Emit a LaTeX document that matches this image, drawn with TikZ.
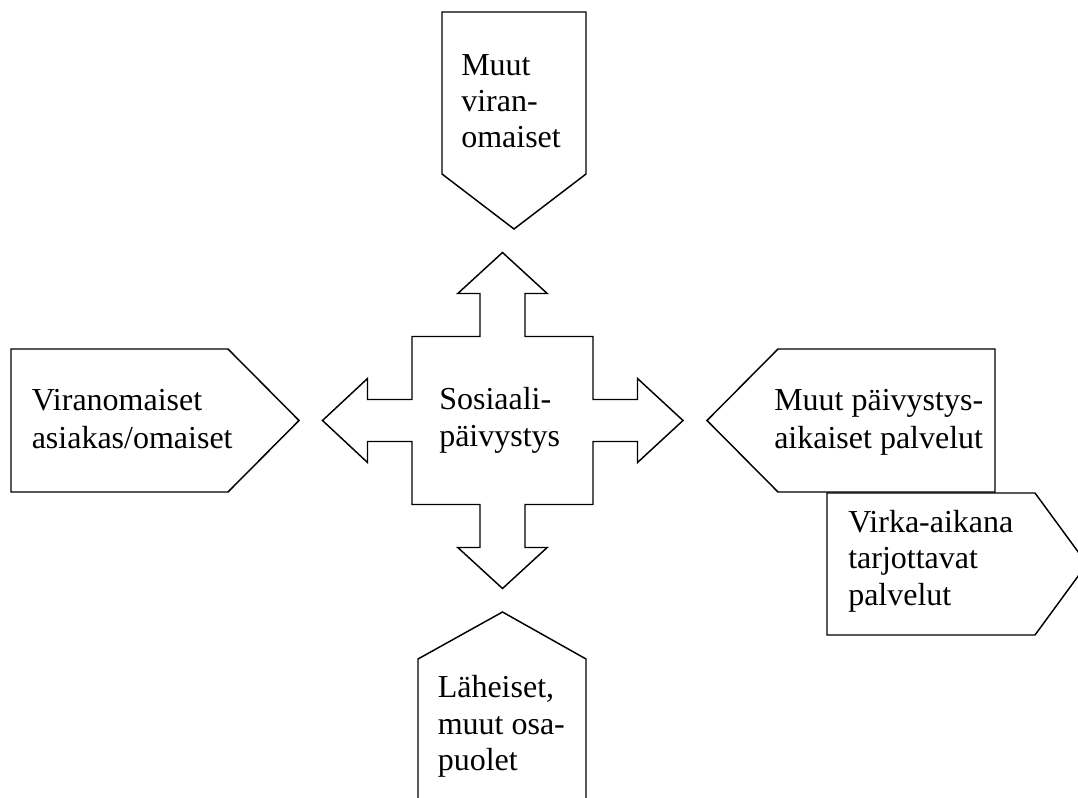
\documentclass[tikz,border=0pt]{standalone}
\usepackage{fontspec}
\setmainfont{Liberation Serif}
\begin{document}
\begin{tikzpicture}[x=0.75pt,y=-0.75pt,
  shapeline/.style={draw=black,line width=1.1pt,fill=white,line join=miter},
  lbl/.style={anchor=base west,inner sep=0pt,font=\fontsize{24}{27.4}\selectfont}]
\useasboundingbox (0,0) rectangle (1078,798);
\begin{scope}
\clip (0,0) rectangle (1078,798);
% top pentagon
\draw[shapeline] (442,12) -- (586,12) -- (586,174) -- (514,229) -- (442,174) -- cycle;
% central cross
\draw[shapeline] (502.5,252.5) -- (547.2,293.5) -- (525,293.5) -- (525,336.5) -- (593,336.5)
  -- (593,399.5) -- (637.5,399.5) -- (637.5,378.5) -- (683,420.5) -- (637.5,462.5)
  -- (637.5,441.5) -- (593,441.5) -- (593,504.5) -- (525,504.5) -- (525,547.5)
  -- (547.2,547.5) -- (502.5,588.5) -- (457.8,547.5) -- (480,547.5) -- (480,504.5)
  -- (412,504.5) -- (412,441.5) -- (367.5,441.5) -- (367.5,462.5) -- (322.5,420.5)
  -- (367.5,378.5) -- (367.5,399.5) -- (412,399.5) -- (412,336.5) -- (480,336.5)
  -- (480,293.5) -- (457.8,293.5) -- cycle;
% left pentagon
\draw[shapeline] (11,349) -- (228,349) -- (299,420.5) -- (228,492) -- (11,492) -- cycle;
% right pentagon 1
\draw[shapeline] (995,349) -- (778,349) -- (707,420.5) -- (778,492) -- (995,492) -- cycle;
% right pentagon 2
\draw[shapeline] (827,493) -- (1035,493) -- (1087,564) -- (1035,635) -- (827,635) -- cycle;
% bottom pentagon
\draw[shapeline] (502.5,612) -- (586,659) -- (586,812) -- (418,812) -- (418,659) -- cycle;
\end{scope}
% texts
\node[lbl] (t1) at (461,76) {Muut};
\node[lbl] (t2) at (461,112) {viran-};
\node[lbl] (t3) at (461,148) {omaiset};
\node[lbl] (c1) at (439,410) {Sosiaali-};
\node[lbl] (c2) at (439,446) {päivystys};
\node[lbl] (l1) at (31.5,411) {Viranomaiset};
\node[lbl] (l2) at (31.5,448) {asiakas/omaiset};
\node[lbl] (r1) at (774,411) {Muut päivystys-};
\node[lbl] (r2) at (774,448) {aikaiset palvelut};
\node[lbl] (v1) at (848,532) {Virka-aikana};
\node[lbl] (v2) at (848,568.5) {tarjottavat};
\node[lbl] (v3) at (848,605) {palvelut};
\node[lbl] (b1) at (437.5,697) {Läheiset,};
\node[lbl] (b2) at (437.5,734) {muut osa-};
\node[lbl] (b3) at (437.5,770.5) {puolet};
\end{tikzpicture}
\end{document}
